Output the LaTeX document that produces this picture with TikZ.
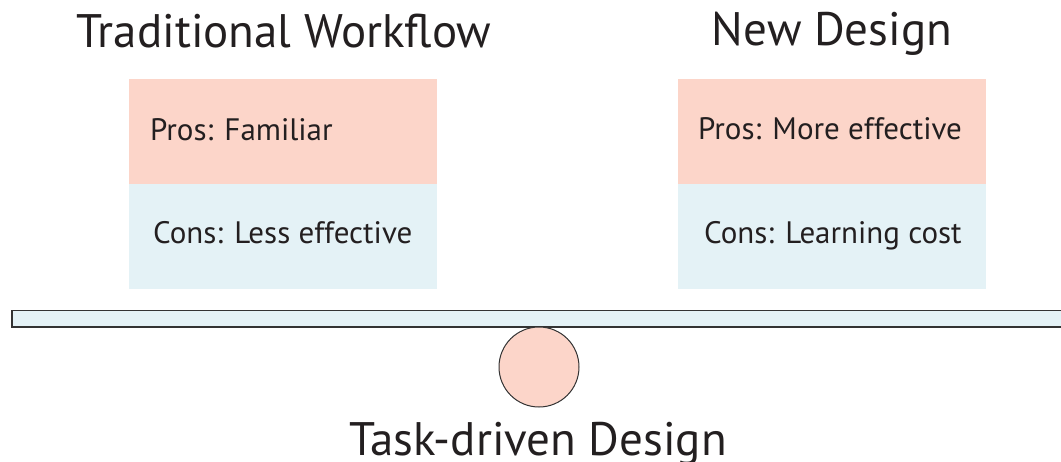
\documentclass[tikz,border=0pt]{standalone}
\usepackage{fontspec}
\setmainfont{PT Sans}
\definecolor{pinkc}{HTML}{FCD5C9}
\definecolor{bluec}{HTML}{E4F2F6}
\definecolor{txt}{HTML}{231F20}
\begin{document}
\begin{tikzpicture}[x=1pt,y=-1pt,
  title/.style={font=\fontsize{47}{52}\selectfont, text=txt, inner sep=0pt},
  boxtxt/.style={font=\fontsize{31}{35}\selectfont, text=txt, inner sep=0pt, anchor=base west},
  pro/.style={fill=pinkc, draw=none},
  con/.style={fill=bluec, draw=none}]
\useasboundingbox (0,0) rectangle (1061,461);
\fill[pinkc] (129,79) rectangle (437,184);
\fill[bluec] (129,184) rectangle (437,289);
\fill[pinkc] (678,79) rectangle (986,184);
\fill[bluec] (678,184) rectangle (986,289);
\node[title, anchor=base] (t1) at (284,47) {Traditional Workflow};
\node[title, anchor=base] (t2) at (832,45) {New Design};
\node[boxtxt] (p1) at (150,140) {Pros: Familiar};
\node[boxtxt] (c1) at (153,243) {Cons: Less effective};
\node[boxtxt] (p2) at (698,139) {Pros: More effective};
\node[boxtxt] (c2) at (704,243) {Cons: Learning cost};
\draw[fill=bluec, draw=black!80, line width=1.5pt] (12,310.5) rectangle (1065,327);
\draw[fill=pinkc, draw=black!80, line width=1pt] (539,367) circle (40);
\node[title, anchor=base] (t3) at (538,455) {Task-driven Design};
\end{tikzpicture}
\end{document}
